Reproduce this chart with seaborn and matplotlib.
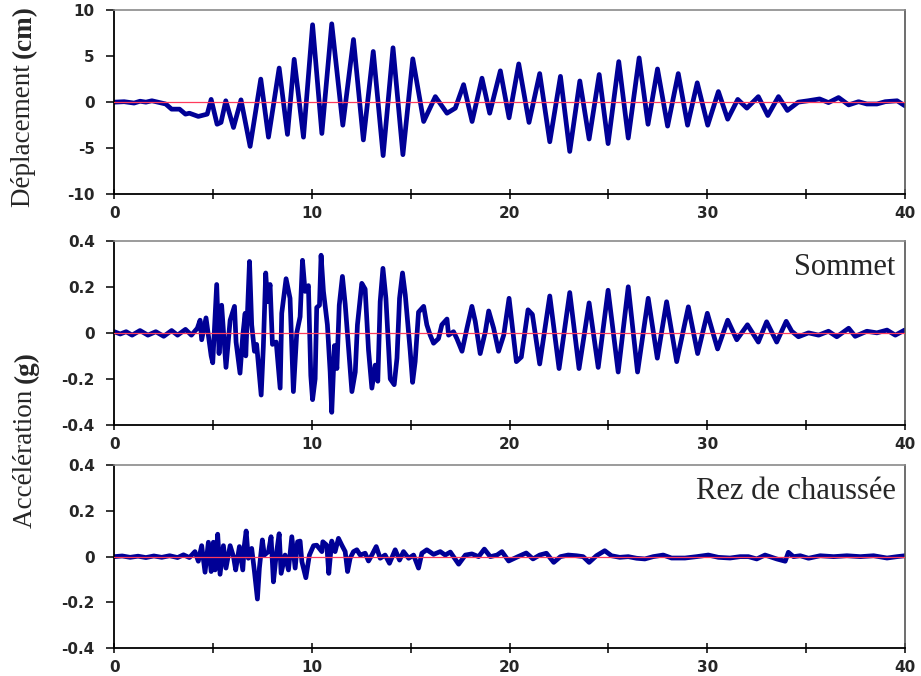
import matplotlib
matplotlib.use("Agg")
import matplotlib.pyplot as plt
import seaborn as sns
import numpy as np
import pandas as pd
from matplotlib.ticker import FixedLocator, FixedFormatter

# ---------------- data ----------------
disp_t = [0, 0.5, 1.0, 1.3, 1.6, 1.9, 2.3, 2.6, 2.9, 3.3, 3.6, 3.8, 4.25, 4.7, 4.9, 5.2, 5.4, 5.64,
          6.03, 6.41, 6.87, 7.41, 7.8, 8.34, 8.76, 9.1, 9.57, 10.03, 10.5, 11.0, 11.56, 12.1, 12.6,
          13.1, 13.6, 14.1, 14.6, 15.1, 15.65, 16.24, 16.83, 17.25, 17.67, 18.1, 18.6, 18.99, 19.53,
          19.97, 20.46, 20.98, 21.52, 22.03, 22.57, 23.04, 23.55, 24.02, 24.53, 24.98, 25.52, 26.0,
          26.55, 27.0, 27.48, 27.99, 28.53, 29.0, 29.49, 30.02, 30.56, 31.03, 31.54, 32.0, 32.58,
          33.06, 33.6, 34.05, 34.6, 35.1, 35.68, 36.13, 36.64, 37.15, 37.65, 38.07, 38.58, 39.0,
          39.6, 40.0]
disp_v = [0, 0.05, -0.1, 0.1, 0.0, 0.15, -0.05, -0.2, -0.76, -0.76, -1.3, -1.2, -1.55, -1.3, 0.3,
          -2.4, -2.2, 0.15, -2.75, 0.25, -4.8, 2.5, -3.8, 3.7, -3.5, 4.65, -3.8, 8.4, -3.4, 8.5,
          -2.5, 6.8, -4.1, 5.5, -5.8, 5.9, -5.7, 4.7, -2.1, 0.6, -1.2, -0.65, 1.9, -2.1, 2.6, -1.2,
          3.4, -1.7, 4.15, -2.2, 3.1, -4.3, 2.8, -5.35, 2.3, -4.0, 3.0, -4.5, 4.4, -3.9, 4.8, -2.4,
          3.6, -2.6, 3.1, -2.5, 2.1, -2.5, 1.15, -1.85, 0.3, -0.65, 0.6, -1.45, 0.6, -0.9, 0.0,
          0.15, 0.35, -0.05, 0.5, -0.3, 0.05, -0.2, -0.2, 0.05, 0.15, -0.4]

top_t = [0, 0.3, 0.6, 0.9, 1.3, 1.7, 2.1, 2.5, 2.9, 3.2, 3.6, 3.9, 4.2, 4.34, 4.42, 4.64, 4.9, 4.98,
         5.18, 5.3, 5.43, 5.65, 5.86, 6.08, 6.16, 6.36, 6.5, 6.62, 6.65, 6.84, 6.95, 7.09, 7.2,
         7.43, 7.54, 7.66, 7.75, 7.88, 8.0, 8.19, 8.39, 8.47, 8.69, 8.89, 9.06, 9.23, 9.4, 9.52,
         9.65, 9.82, 9.94, 10.03, 10.16, 10.24, 10.38, 10.46, 10.58, 10.78, 10.92, 11.0, 11.14,
         11.26, 11.38, 11.54, 11.68, 11.8, 12.02, 12.19, 12.3, 12.52, 12.69, 12.86, 13.03, 13.2,
         13.33, 13.45, 13.59, 13.74, 13.96, 14.16, 14.3, 14.43, 14.58, 14.72, 14.97, 15.09,
         15.22, 15.39, 15.65, 15.81, 15.98, 16.15, 16.4, 16.57, 16.83, 16.91, 17.16, 17.33,
         17.59, 17.84, 18.09, 18.26, 18.51, 18.77, 18.94, 19.19, 19.44, 19.7, 19.97, 20.34,
         20.59, 20.93, 21.15, 21.52, 22.03, 22.5, 23.04, 23.51, 24.02, 24.48, 24.98, 25.49,
         26.0, 26.47, 27.01, 27.47, 27.94, 28.45, 29.04, 29.51, 30.0, 30.52, 31.03, 31.49,
         32.03, 32.58, 33.0, 33.51, 33.99, 34.27, 34.61, 35.12, 35.63, 36.13, 36.55, 37.15,
         37.48, 38.07, 38.58, 39.09, 39.51, 39.98]
top_a = [0.005, -0.005, 0.005, -0.01, 0.01, -0.01, 0.005, -0.015, 0.01, -0.01, 0.015, -0.01, 0.02,
         0.055, -0.03, 0.065, -0.1, -0.13, 0.21, -0.09, 0.12, -0.15, 0.055, 0.115, -0.04, -0.175,
         -0.01, 0.085, -0.1, 0.31, 0.035, -0.08, -0.05, -0.27, -0.06, 0.26, 0.135, 0.21, -0.05,
         -0.04, -0.24, 0.085, 0.235, 0.15, -0.255, 0.0, 0.07, 0.315, 0.18, 0.205, -0.185, -0.29,
         -0.2, 0.11, 0.12, 0.337, 0.18, 0.035, -0.17, -0.345, -0.055, -0.155, 0.12, 0.245, 0.125,
         -0.01, -0.255, -0.17, 0.035, 0.215, 0.19, -0.075, -0.24, -0.14, -0.21, 0.135, 0.28,
         0.15, -0.2, -0.225, -0.11, 0.15, 0.26, 0.165, -0.08, -0.215, -0.125, 0.09, 0.115, 0.035,
         -0.01, -0.045, -0.025, 0.035, 0.06, -0.01, 0.005, -0.025, -0.08, 0.02, 0.115, 0.05,
         -0.09, 0.005, 0.095, 0.02, -0.08, -0.01, 0.15, -0.125, -0.105, 0.1, 0.08, -0.135, 0.16,
         -0.155, 0.175, -0.155, 0.13, -0.15, 0.185, -0.17, 0.2, -0.17, 0.15, -0.11, 0.135,
         -0.125, 0.113, -0.09, 0.085, -0.07, 0.055, -0.03, 0.035, -0.04, 0.048, -0.04, 0.05,
         0.007, -0.017, 0.0, -0.01, 0.007, -0.017, 0.02, -0.015, 0.007, 0.0, 0.012, -0.01, 0.012]

gnd_t = [0, 0.4, 0.8, 1.2, 1.6, 2.0, 2.4, 2.8, 3.2, 3.5, 3.8, 4.08, 4.25, 4.42, 4.59, 4.76, 4.9,
         5.01, 5.1, 5.23, 5.35, 5.52, 5.65, 5.86, 6.03, 6.14, 6.33, 6.5, 6.58, 6.67, 6.78, 6.95,
         7.09, 7.24, 7.34, 7.49, 7.59, 7.8, 7.93, 8.05, 8.19, 8.34, 8.44, 8.64, 8.81, 8.98, 9.15,
         9.27, 9.4, 9.49, 9.69, 9.87, 10.08, 10.24, 10.5, 10.55, 10.75, 10.85, 11.0, 11.17, 11.34,
         11.51, 11.68, 11.8, 11.93, 12.1, 12.27, 12.44, 12.69, 12.86, 13.03, 13.25, 13.45, 13.7,
         13.92, 14.21, 14.43, 14.63, 14.89, 15.14, 15.39, 15.56, 15.81, 16.15, 16.49, 16.74,
         17.0, 17.42, 17.76, 18.09, 18.43, 18.72, 19.02, 19.36, 19.61, 19.95, 20.42, 20.84,
         21.18, 21.52, 21.86, 22.23, 22.57, 22.96, 23.38, 23.72, 24.02, 24.39, 24.81, 25.15,
         25.57, 26.0, 26.42, 26.84, 27.26, 27.77, 28.19, 28.87, 29.46, 30.05, 30.56, 31.15,
         31.66, 32.08, 32.5, 32.92, 33.51, 33.94, 34.1, 34.36, 34.7, 35.12, 35.71, 36.39, 37.06,
         37.74, 38.41, 39.09, 39.6, 40.0]
gnd_a = [0, 0.003, -0.003, 0.002, -0.004, 0.003, -0.003, 0.004, -0.004, 0.008, -0.004, 0.022,
         -0.02, 0.048, -0.068, 0.063, -0.065, 0.063, -0.058, 0.098, -0.077, 0.048, -0.05, 0.048,
         0.0, -0.058, 0.044, -0.058, 0.05, 0.112, -0.007, 0.036, -0.065, -0.185, -0.05, 0.073,
         0.007, 0.022, 0.087, -0.11, 0.007, 0.1, -0.073, 0.007, -0.058, 0.087, -0.05, 0.065,
         0.068, -0.022, -0.092, 0.007, 0.048, 0.05, 0.022, 0.065, 0.05, -0.073, 0.068, 0.022,
         0.08, 0.05, 0.022, -0.065, -0.007, 0.022, 0.03, 0.007, 0.015, -0.019, 0.007, 0.044,
         -0.007, 0.007, -0.029, 0.03, -0.015, 0.022, -0.007, 0.007, -0.05, 0.015, 0.03, 0.01,
         0.022, 0.007, 0.02, -0.033, 0.007, 0.012, 0.0, 0.033, 0.0, 0.007, 0.022, -0.019, 0.0,
         0.016, -0.01, 0.007, 0.015, -0.025, 0.0, 0.007, 0.004, 0.0, -0.025, 0.004, 0.026, 0.004,
         -0.003, 0.0, -0.007, -0.01, 0.0, 0.007, -0.006, -0.006, 0.0, 0.007, -0.003, -0.006, 0.0,
         0.0, -0.01, 0.007, -0.01, -0.02, 0.019, 0.0, 0.004, -0.007, 0.004, 0.0, 0.004, 0.0,
         0.004, -0.006, 0.0, 0.004]

x_ticks = [0, 10, 20, 30, 40]
x_tick_labels = ["0", "10", "20", "30", "40"]
x_minor = [5, 15, 25, 35]
disp_ticks = [-10, -5, 0, 5, 10]
disp_tick_labels = ["-10", "-5", "0", "5", "10"]
acc_ticks = [-0.4, -0.2, 0, 0.2, 0.4]
acc_tick_labels = ["-0.4", "-0.2", "0", "0.2", "0.4"]
disp_label = "Déplacement"
acc_label = "Accélération"
panel_names = ["", "Sommet", "Rez de chaussée"]

# ---------------- style ----------------
sns.set_style("white")
plt.rcParams["axes.unicode_minus"] = False
plt.rcParams["font.family"] = ["DejaVu Sans"]

LINE = "#000096"
ZERO = "#ff3b5c"
SERIF = "Liberation Serif"

fig = plt.figure(figsize=(9.21, 6.76), dpi=100)
W, H = 921.0, 676.0
left = 114.3 / W
width = (905.0 - 114.3) / W
boxes = [(10.0, 194.3), (240.7, 425.0), (465.0, 648.3)]

frames = [
    pd.DataFrame({"t": disp_t, "v": disp_v}),
    pd.DataFrame({"t": top_t, "v": top_a}),
    pd.DataFrame({"t": gnd_t, "v": gnd_a}),
]

axes = []
for i, ((ytop, ybot), df) in enumerate(zip(boxes, frames)):
    ax = fig.add_axes([left, 1 - ybot / H, width, (ybot - ytop) / H])
    axes.append(ax)
    sns.lineplot(data=df, x="t", y="v", ax=ax, color=LINE, linewidth=3.4,
                 estimator=None, sort=False, zorder=2)
    ax.axhline(0, color=ZERO, linewidth=0.9, zorder=3)
    ax.set_xlim(0, 40)
    if i == 0:
        ax.set_ylim(-10, 10)
        ax.yaxis.set_major_locator(FixedLocator(disp_ticks))
        ax.yaxis.set_major_formatter(FixedFormatter(disp_tick_labels))
    else:
        ax.set_ylim(-0.4, 0.4)
        ax.yaxis.set_major_locator(FixedLocator(acc_ticks))
        ax.yaxis.set_major_formatter(FixedFormatter(acc_tick_labels))
    ax.xaxis.set_major_locator(FixedLocator(x_ticks))
    ax.xaxis.set_major_formatter(FixedFormatter(x_tick_labels))
    ax.xaxis.set_minor_locator(FixedLocator(x_minor))
    ax.set_xlabel("")
    ax.set_ylabel("")
    ax.tick_params(axis="x", which="both", direction="inout", length=7, width=1.1,
                   color="black", bottom=True, pad=5)
    ax.tick_params(axis="y", which="major", direction="out", length=6, width=1.1,
                   color="black", left=True, pad=8)
    for lab in ax.get_xticklabels() + ax.get_yticklabels():
        lab.set_fontweight("bold")
        lab.set_fontsize(11)
    for s in ["left", "bottom"]:
        ax.spines[s].set_color("black")
        ax.spines[s].set_linewidth(1.3)
    ax.spines["top"].set_color("#8a8a8a")
    ax.spines["top"].set_linewidth(1.2)
    ax.spines["right"].set_color("#555555")
    ax.spines["right"].set_linewidth(1.2)
    if panel_names[i]:
        ax.text(0.988, 0.935, panel_names[i], transform=ax.transAxes, ha="right", va="top",
                fontsize=22, family=SERIF)

fig.canvas.draw()
r = fig.canvas.get_renderer()

def place_label(x_px, y_center_px, word, unit, size=19.5):
    ta = fig.text(0, 0, word + " ", rotation=90, family=SERIF, fontsize=size,
                  ha="center", va="bottom")
    tb = fig.text(0, 0, unit, rotation=90, family=SERIF, fontsize=size,
                  fontweight="bold", ha="center", va="bottom")
    ha_ = ta.get_window_extent(r).height
    hb_ = tb.get_window_extent(r).height
    total = ha_ + hb_
    ybottom = (H - y_center_px) - total / 2.0
    ta.set_position((x_px / W, ybottom / H))
    tb.set_position((x_px / W, (ybottom + ha_) / H))

place_label(24, 106, disp_label, "(cm)")
place_label(26, 440, acc_label, "(g)")

fig.savefig("out.png", dpi=100)
